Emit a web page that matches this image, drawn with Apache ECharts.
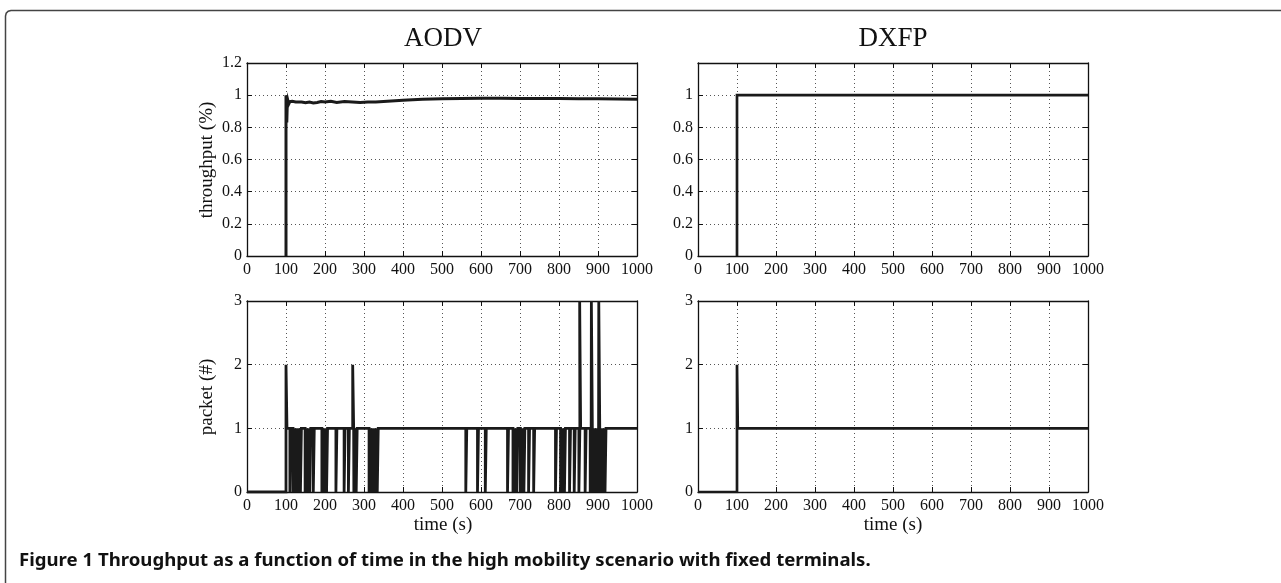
<!DOCTYPE html>
<html><head><meta charset="utf-8">
<script src="https://cdn.jsdelivr.net/npm/echarts@6/dist/echarts.min.js"></script>
<style>html,body{margin:0;padding:0;background:#fff;}#c{width:1281px;height:583px;}</style>
</head><body><div id="c"></div>
<script>
// ---------------- data ----------------
const panelTitles = ['AODV', 'DXFP'];
const throughputTicks = { min: 0, max: 1.2, interval: 0.2 };
const packetTicks = { min: 0, max: 3, interval: 1 };
const timeTicks = { min: 0, max: 1000, interval: 100 };

// AODV throughput (time s, fraction)
const aodvThroughputTime  = [100, 100, 101, 102, 103, 105, 107, 110, 113, 116, 120, 125, 130, 140, 150, 160, 170, 180, 190, 200, 215, 230, 250, 270, 290, 310, 330, 360, 400, 450, 500, 550, 600, 650, 700, 750, 800, 850, 900, 950, 1000];
const aodvThroughputValue = [0, 1.0, 0.95, 0.83, 0.92, 0.965, 0.945, 0.96, 0.948, 0.962, 0.95, 0.958, 0.95, 0.957, 0.953, 0.958, 0.952, 0.955, 0.96, 0.958, 0.962, 0.955, 0.96, 0.957, 0.955, 0.957, 0.958, 0.962, 0.968, 0.974, 0.978, 0.98, 0.981, 0.981, 0.98, 0.98, 0.979, 0.978, 0.977, 0.976, 0.975];

// DXFP throughput
const dxfpThroughputTime  = [100, 100, 1000];
const dxfpThroughputValue = [0, 1, 1];

// AODV packets: level 0 before start, level 1 afterwards, with short pulses
const aodvPacketStart = 100;
const aodvPacketBase = 1;
const aodvPacketEventTime  = [100, 110, 118, 125, 128, 131, 134, 137, 149, 152, 155, 158, 161, 170, 192, 195, 198, 201, 204, 228, 249, 260, 271, 274, 277, 280, 313, 316, 319, 322, 325, 328, 331, 334, 561, 591, 611, 668, 682, 687, 692, 701, 705, 710, 722, 735, 791, 804, 809, 814, 827, 839, 851, 853, 867, 880, 883, 887, 891, 895, 899, 902, 906, 913, 918];
const aodvPacketEventValue = [2,   0,   0,   0,   0,   0,   0,   0,   0,   0,   0,   0,   0,   0,   0,   0,   0,   0,   0,   0,   0,   0,   2,   0,   0,   0,   0,   0,   0,   0,   0,   0,   0,   0,   0,   0,   0,   0,   0,   0,   0,   0,   0,   0,   0,   0,   0,   0,   0,   0,   0,   0,   0,   3,   0,   0,   3,   0,   0,   0,   0,   3,   0,   0,   0];
const pulseWidth = 2.5;

// DXFP packets
const dxfpPacketTime  = [0, 100, 100, 102, 102, 1000];
const dxfpPacketValue = [0, 0, 2, 2, 1, 1];

// ---------------- build ----------------
function pairs(t, v) { return t.map((x, i) => [x, v[i]]); }
function pulses() {
  const d = [[0, 0], [aodvPacketStart, 0]];
  aodvPacketEventTime.forEach((t, i) => {
    const v = aodvPacketEventValue[i];
    d.push([t, aodvPacketBase], [t, v], [t + pulseWidth, v], [t + pulseWidth, aodvPacketBase]);
  });
  d.push([timeTicks.max, aodvPacketBase]);
  return d;
}

const serif = '"Liberation Serif", "Times New Roman", serif';
const ink = '#1a1a1a';
const grids = [
  { left: 247, top: 63, width: 390, height: 193 },
  { left: 698, top: 63, width: 390, height: 193 },
  { left: 247, top: 301, width: 390, height: 191 },
  { left: 698, top: 301, width: 390, height: 191 }
].map(g => Object.assign({ outerBoundsMode: 'none', containLabel: false }, g));

const dotted = { show: true, lineStyle: { color: '#555', width: 1, type: [1, 3] } };
const axisLine = { show: true, onZero: false, lineStyle: { color: '#111', width: 1.3 } };
const tick = { show: true, inside: true, length: 5, lineStyle: { color: '#111', width: 1 } };
const lbl = { color: '#111', fontFamily: serif, fontSize: 16 };

const xAxes = [], yAxes = [];
grids.forEach((g, gi) => {
  xAxes.push({ type: 'value', gridIndex: gi, position: 'bottom', min: timeTicks.min, max: timeTicks.max, interval: timeTicks.interval,
    axisLine, axisTick: tick, splitLine: dotted, axisLabel: Object.assign({ margin: 6, formatter: v => String(v) }, lbl) });
  xAxes.push({ type: 'value', gridIndex: gi, position: 'top', min: timeTicks.min, max: timeTicks.max, interval: timeTicks.interval,
    axisLine, axisTick: tick, splitLine: { show: false }, axisLabel: { show: false } });
  const yt = gi < 2 ? throughputTicks : packetTicks;
  const fmt = gi === 1 ? (v => (Math.abs(v - 1.2) < 1e-9 ? '' : String(+v.toFixed(1)))) : (v => String(+(+v).toFixed(1)));
  yAxes.push({ type: 'value', gridIndex: gi, position: 'left', min: yt.min, max: yt.max, interval: yt.interval,
    axisLine, axisTick: tick, splitLine: dotted, axisLabel: Object.assign({ margin: 5, formatter: fmt }, lbl) });
  yAxes.push({ type: 'value', gridIndex: gi, position: 'right', min: yt.min, max: yt.max, interval: yt.interval,
    axisLine, axisTick: tick, splitLine: { show: false }, axisLabel: { show: false } });
});

const seriesData = [
  pairs(aodvThroughputTime, aodvThroughputValue),
  pairs(dxfpThroughputTime, dxfpThroughputValue),
  pulses(),
  pairs(dxfpPacketTime, dxfpPacketValue)
];
const widths = [3, 2.7, 2.8, 2.7];
const series = seriesData.map((d, gi) => ({
  type: 'line', xAxisIndex: gi * 2, yAxisIndex: gi * 2, data: d, showSymbol: false, symbol: 'none',
  lineStyle: { color: ink, width: widths[gi], join: 'miter' }, animation: false, z: 3
}));

function txt(x, y, text, size, extra) {
  return Object.assign({ type: 'text', x, y, style: { text, font: size + 'px ' + serif, fill: '#111', align: 'center', verticalAlign: 'middle' } }, extra || {});
}

const graphic = [
  { type: 'polyline', shape: { points: [[5.5, 583], [5.5, 16], [6.2, 13.2], [8.2, 11.2], [11, 10.5], [1281, 10.5]] }, style: { stroke: '#444', lineWidth: 1.5, fill: null } },
  txt(443, 39, panelTitles[0], 27),
  txt(893, 39, panelTitles[1], 27),
  txt(207, 160, 'throughput (%)', 19, { rotation: Math.PI / 2 }),
  txt(207, 397, 'packet (#)', 19, { rotation: Math.PI / 2 }),
  txt(443, 525, 'time (s)', 19),
  txt(893, 525, 'time (s)', 19),
  { type: 'text', x: 19, y: 561, style: { text: 'Figure 1 Throughput as a function of time in the high mobility scenario with fixed terminals.',
    font: 'bold 18.6px "Noto Sans", "Open Sans", sans-serif', fill: '#111', align: 'left', verticalAlign: 'middle' } }
];

const chart = echarts.init(document.getElementById('c'));
chart.setOption({ animation: false, backgroundColor: '#fff', grid: grids, xAxis: xAxes, yAxis: yAxes, series, graphic });
</script></body></html>
